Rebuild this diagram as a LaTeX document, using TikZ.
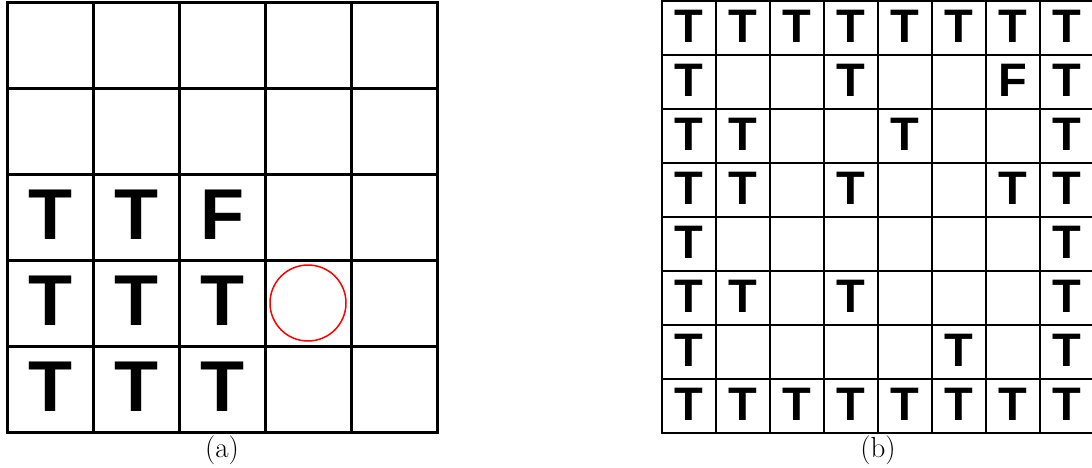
\documentclass[tikz,border=0pt]{standalone}
\usepackage{fontspec}
\newfontfamily\tfont{Liberation Sans}
\begin{document}
\begin{tikzpicture}[x=1pt,y=-1pt,
  bigletter/.style={font=\tfont\bfseries\fontsize{72}{72}\selectfont, inner sep=0pt, anchor=center},
  smallletter/.style={font=\tfont\bfseries\fontsize{47}{47}\selectfont, inner sep=0pt, anchor=center},
  caption/.style={font=\fontsize{29}{29}\selectfont, inner sep=0pt, anchor=center},
  thickgrid/.style={line width=3pt, line cap=rect},
  thingrid/.style={line width=1.5pt, line cap=rect}]
\useasboundingbox (0,0) rectangle (1092,467);
% left grid 5x5, cell 86
\foreach \k in {0,...,5}{
  \draw[thickgrid] ({7+86*\k},2.5) -- ({7+86*\k},432.5);
  \draw[thickgrid] (7,{2.5+86*\k}) -- (437,{2.5+86*\k});
}
\foreach \r/\c/\t [count=\i] in {2/0/T,2/1/T,2/2/F,3/0/T,3/1/T,3/2/T,4/0/T,4/1/T,4/2/T}{
  \node[bigletter] (L\i) at ({7+86*\c+43},{2.5+86*\r+40}) {\t};
}
\draw[red, line width=1.5pt] (308,303) circle (38);
\node[caption] (capa) at (222,450) {(a)};
% right grid 8x8, cell 54
\foreach \k in {0,...,8}{
  \draw[thingrid] ({662+54*\k},1) -- ({662+54*\k},433);
  \draw[thingrid] (662,{1+54*\k}) -- (1094,{1+54*\k});
}
\foreach \r/\c/\t [count=\i] in {
 0/0/T,0/1/T,0/2/T,0/3/T,0/4/T,0/5/T,0/6/T,0/7/T,
 1/0/T,1/3/T,1/6/F,1/7/T,
 2/0/T,2/1/T,2/4/T,2/7/T,
 3/0/T,3/1/T,3/3/T,3/6/T,3/7/T,
 4/0/T,4/7/T,
 5/0/T,5/1/T,5/3/T,5/7/T,
 6/0/T,6/5/T,6/7/T,
 7/0/T,7/1/T,7/2/T,7/3/T,7/4/T,7/5/T,7/6/T,7/7/T}{
  \node[smallletter] (R\i) at ({662+54*\c+27},{1+54*\r+25}) {\t};
}
\node[caption] (capb) at (878,450) {(b)};
\end{tikzpicture}
\end{document}
